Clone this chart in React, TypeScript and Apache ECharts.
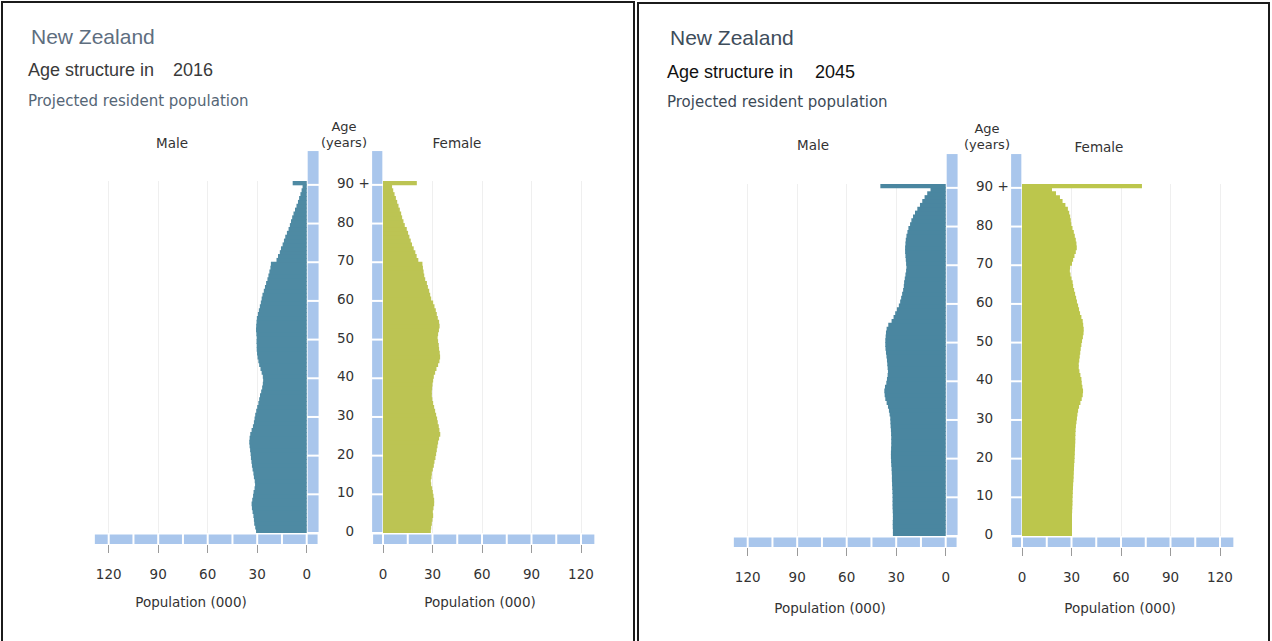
import React, { useEffect, useRef } from "react";
import * as echarts from "echarts";

// ---------- data ----------
const ageLabels: string[] = [];
for (let a = 0; a < 90; a++) ageLabels.push(String(a));
ageLabels.push("90+");

const popTicks = [0, 30, 60, 90, 120];
const ageBreaks = [0, 10, 20, 30, 40, 50, 60, 70, 80, 90, 99];
const maleBarBreaks = [129, 120, 105, 90, 75, 60, 45, 30, 15, 0, -7.2];
const femaleBarBreaks = [-6.6, 0, 15, 30, 45, 60, 75, 90, 105, 120, 128.7];

// population (000) by single year of age 0..89, then 90+
const male2016 = [
  30.7, 31.2, 31.8, 32.0, 32.3, 32.8, 33.2, 33.4, 33.0, 32.5,
  32.2, 31.6, 31.3, 31.5, 32.0, 32.3, 32.8, 33.2, 33.5, 33.8,
  34.0, 34.3, 34.6, 34.8, 34.6, 34.2, 33.4, 32.6, 32.0, 31.6,
  31.2, 30.6, 30.0, 29.3, 28.8, 28.3, 27.6, 27.0, 26.6, 26.4,
  26.6, 27.3, 28.0, 28.8, 29.3, 29.8, 30.1, 30.3, 30.3, 30.4,
  30.3, 30.5, 30.7, 30.6, 30.4, 30.2, 29.6, 29.0, 28.4, 27.8,
  27.3, 26.8, 26.0, 25.3, 24.6, 23.8, 23.2, 22.6, 22.0, 21.7,
  18.3, 17.4, 16.3, 15.6, 14.6, 13.8, 13.0, 12.0, 11.0, 10.2,
  9.5, 8.8, 8.0, 7.1, 6.2, 5.3, 4.6, 3.8, 3.1, 2.5,
  8.5,
];
const female2016 = [
  29.0, 29.2, 29.6, 30.0, 30.4, 30.2, 30.6, 31.0, 31.0, 30.6,
  30.2, 29.8, 29.2, 29.0, 29.4, 29.6, 30.2, 30.8, 31.2, 31.8,
  32.2, 32.6, 33.0, 33.4, 34.0, 34.7, 34.2, 33.8, 33.2, 32.8,
  32.2, 31.6, 31.0, 30.4, 29.9, 29.6, 29.6, 29.8, 30.0, 30.4,
  30.8, 31.6, 32.4, 33.4, 34.2, 34.6, 34.4, 34.0, 33.8, 33.4,
  33.1, 33.4, 33.9, 34.3, 34.0, 33.2, 32.6, 32.0, 31.2, 30.4,
  29.2, 28.6, 28.0, 27.2, 26.6, 25.6, 25.0, 24.6, 24.2, 23.9,
  21.4, 20.4, 19.6, 18.6, 17.6, 16.8, 16.0, 15.2, 14.4, 13.2,
  12.4, 11.6, 11.0, 10.2, 9.4, 8.6, 7.8, 7.0, 6.2, 5.5,
  20.5,
];
const male2045 = [
  32.0, 32.0, 32.1, 32.1, 32.0, 32.0, 32.1, 32.2, 32.2, 32.2,
  32.2, 32.3, 32.4, 32.5, 32.6, 32.6, 32.7, 32.8, 33.0, 33.1,
  33.2, 33.2, 33.1, 33.0, 33.0, 33.0, 33.1, 33.2, 33.4, 33.5,
  33.6, 34.0, 34.4, 35.0, 35.8, 36.6, 37.0, 37.2, 36.8, 36.0,
  35.6, 35.2, 35.0, 35.2, 35.4, 35.6, 35.9, 36.2, 36.5, 36.6,
  36.6, 36.4, 36.2, 35.8, 34.8, 32.8, 31.6, 30.6, 29.6, 28.4,
  27.6, 27.0, 26.4, 25.8, 25.4, 25.2, 24.8, 24.4, 24.0, 23.8,
  24.0, 24.2, 24.4, 24.6, 24.6, 24.4, 24.2, 23.8, 23.2, 22.6,
  21.6, 20.8, 19.8, 18.6, 17.2, 15.6, 14.2, 12.8, 11.2, 9.2,
  39.6,
];
const female2045 = [
  30.3, 30.3, 30.3, 30.3, 30.3, 30.3, 30.4, 30.5, 30.6, 30.6,
  30.7, 30.8, 30.9, 31.0, 31.2, 31.3, 31.4, 31.5, 31.6, 31.8,
  31.9, 32.0, 32.1, 32.2, 32.3, 32.3, 32.4, 32.5, 32.7, 33.0,
  33.3, 33.6, 34.0, 34.6, 35.4, 36.2, 36.8, 37.0, 36.6, 36.2,
  36.0, 35.4, 34.8, 34.4, 34.4, 34.7, 35.0, 35.3, 35.6, 36.0,
  36.4, 36.9, 37.3, 37.4, 37.1, 36.8, 36.0, 35.2, 34.6, 34.0,
  33.3, 32.8, 32.2, 31.6, 31.0, 30.7, 30.0, 29.4, 29.0, 29.2,
  30.3, 31.0, 31.8, 32.6, 33.2, 33.0, 32.6, 32.0, 31.4, 30.6,
  29.9, 29.6, 29.2, 28.6, 27.8, 26.3, 24.6, 23.0, 20.6, 18.2,
  72.7,
];

// ---------- layout ----------
const W = 1272;
const H = 641;
const PX_PER_K = 1.65;
const AXIS_MAX = 129;
const MALE_ZERO_X = 306.7;
const FEMALE_ZERO_X = 383;
const GRID_TOP = 181;
const GRID_BOTTOM = 533;
const BAR_PX = (GRID_BOTTOM - GRID_TOP) / ageLabels.length + 0.9;

const SANS = "DejaVu Sans";
const ARIAL = "Liberation Sans";
const AXIS_BLUE = "#a9c6ec";

const panels = [
  {
    year: "2016",
    male: male2016,
    female: female2016,
    dx: 0,
    dy: 0,
    maleColor: "#4e8aa3",
    femaleColor: "#bcc453",
    border: { x: 2, y: 2, w: 632 },
    titleColor: "#5e6e7f",
    subColor: "#3a3a3a",
    projColor: "#556676",
    t: { nz: [31, 36], as: [28, 70], yr: [173, 70], pr: [28, 101], male: [172, 143], age: [344, 126], years: [344, 142], female: [457, 143], popM: [191, 602], popF: [480, 602] },
  },
  {
    year: "2045",
    male: male2045,
    female: female2045,
    dx: 639,
    dy: 3,
    maleColor: "#4a86a0",
    femaleColor: "#bcc64c",
    border: { x: 638, y: 3, w: 631 },
    titleColor: "#3e4d5b",
    subColor: "#111111",
    projColor: "#3c4a57",
    t: { nz: [670, 37], as: [667, 72], yr: [815, 72], pr: [667, 102], male: [813, 145], age: [987, 128], years: [987, 144], female: [1099, 147], popM: [830, 608], popF: [1120, 608] },
  },
];

function buildOption(): any {
  const grid: any[] = [];
  const xAxis: any[] = [];
  const yAxis: any[] = [];
  const series: any[] = [];
  panels.forEach((p, pi) => {
    const top = GRID_TOP + p.dy;
    const height = GRID_BOTTOM - GRID_TOP;
    const width = AXIS_MAX * PX_PER_K;
    grid.push({ left: MALE_ZERO_X + p.dx - width, top, width, height });
    grid.push({ left: FEMALE_ZERO_X + p.dx, top, width, height });
    [0, 1].forEach((side) => {
      const gi = pi * 2 + side;
      xAxis.push({
        type: "value",
        gridIndex: gi,
        inverse: side === 0,
        min: 0,
        max: AXIS_MAX,
        offset: 12,
        axisLine: { show: false },
        axisTick: { show: true, customValues: popTicks, length: 8, lineStyle: { color: "#9a9a9a", width: 1 } },
        axisLabel: { customValues: popTicks, margin: 22, fontSize: 13.5, color: "#333", fontFamily: SANS },
        splitLine: { show: true, lineStyle: { color: "#efefef", width: 1 } },
      });
      yAxis.push({
        type: "category",
        gridIndex: gi,
        data: ageLabels,
        axisLine: { show: false },
        axisTick: { show: false },
        splitLine: { show: false },
        axisLabel: {
          show: side === 1,
          interval: (idx: number) => idx % 10 === 0,
          formatter: (v: string, idx: number) => (idx === 90 ? "90 +" : idx === 0 ? "\u20070" : v),
          align: "left",
          margin: 46,
          fontSize: 13.5,
          color: "#333",
          fontFamily: SANS,
        },
      });
      series.push({
        type: "bar",
        name: side === 0 ? "Male " + p.year : "Female " + p.year,
        xAxisIndex: gi,
        yAxisIndex: gi,
        data: side === 0 ? p.male : p.female,
        barWidth: BAR_PX,
        silent: true,
        itemStyle: {
          color: side === 0 ? p.maleColor : p.femaleColor,
          borderWidth: 0,
        },
      });
    });
  });
  return {
    animation: false,
    backgroundColor: "#ffffff",
    grid,
    xAxis,
    yAxis,
    series,
  };
}

function text(str: string, x: number, y: number, size: number, fill: string, family: string, align = "left") {
  return {
    type: "text",
    silent: true,
    z: 100,
    style: {
      text: str,
      x,
      y,
      fill,
      font: `${size}px "${family}"`,
      fontSize: size,
      fontFamily: family,
      lineHeight: Math.round(size * 1.1),
      align,
      textAlign: align,
      verticalAlign: "middle",
      textVerticalAlign: "middle",
    },
  };
}

function buildGraphics(chart: echarts.ECharts): any[] {
  const g: any[] = [];
  panels.forEach((p, pi) => {
    // borders
    g.push({
      type: "rect",
      silent: true,
      z: 100,
      shape: { x: p.border.x, y: p.border.y, width: p.border.w, height: H + 40 },
      style: { fill: "none", stroke: "#1b1b1b", lineWidth: 2 },
    });
    // texts
    const t = p.t;
    g.push(text("New Zealand", t.nz[0], t.nz[1], 21, p.titleColor, ARIAL));
    g.push(text("Age structure in", t.as[0], t.as[1], 18, p.subColor, ARIAL));
    g.push(text(p.year, t.yr[0], t.yr[1], 18, p.subColor, ARIAL));
    g.push(text("Projected resident population", t.pr[0], t.pr[1], 15, p.projColor, SANS));
    g.push(text("Male", t.male[0], t.male[1], 13.5, "#333", SANS, "center"));
    g.push(text("Age", t.age[0], t.age[1], 13, "#333", SANS, "center"));
    g.push(text("(years)", t.years[0], t.years[1], 13, "#333", SANS, "center"));
    g.push(text("Female", t.female[0], t.female[1], 13.5, "#333", SANS, "center"));
    g.push(text("Population (000)", t.popM[0], t.popM[1], 13.5, "#333", SANS, "center"));
    g.push(text("Population (000)", t.popF[0], t.popF[1], 13.5, "#333", SANS, "center"));

    // light-blue segmented axis bars, placed through the axes' scales
    [0, 1].forEach((side) => {
      const gi = pi * 2 + side;
      const px = (v: number) => chart.convertToPixel({ xAxisIndex: gi } as any, v) as unknown as number;
      const c0 = chart.convertToPixel({ yAxisIndex: gi } as any, 0) as unknown as number;
      const c1 = chart.convertToPixel({ yAxisIndex: gi } as any, 1) as unknown as number;
      const band = c0 - c1;
      const base = c0 + band / 2;
      const ageY = (a: number) => base - a * band;

      // vertical bar beside the age labels
      const vx = side === 0 ? [px(-0.6), px(-7.2)] : [px(-6.6), px(-0.4)];
      const vl = Math.min(vx[0], vx[1]);
      const vw = Math.abs(vx[1] - vx[0]);
      for (let i = 0; i < ageBreaks.length - 1; i++) {
        const yTop = ageY(ageBreaks[i + 1]) + 1;
        const yBot = ageY(ageBreaks[i]) - 1;
        g.push({
          type: "rect",
          silent: true,
          z: 50,
          shape: { x: vl, y: yTop, width: vw, height: yBot - yTop },
          style: { fill: AXIS_BLUE },
        });
      }
      // horizontal bar below the pyramid
      const br = side === 0 ? maleBarBreaks : femaleBarBreaks;
      for (let i = 0; i < br.length - 1; i++) {
        const a = px(br[i]);
        const b = px(br[i + 1]);
        const l = Math.min(a, b) + 1;
        const r = Math.max(a, b) - 1;
        g.push({
          type: "rect",
          silent: true,
          z: 50,
          shape: { x: l, y: base + 1.5, width: r - l, height: 9.5 },
          style: { fill: AXIS_BLUE },
        });
      }
    });
  });
  return g;
}

export default function App() {
  const ref = useRef<HTMLDivElement>(null);
  useEffect(() => {
    if (!ref.current) return;
    const chart = echarts.init(ref.current, undefined, { renderer: "svg", width: W, height: H });
    chart.setOption(buildOption());
    chart.setOption({ graphic: buildGraphics(chart) });
    return () => chart.dispose();
  }, []);
  return (
    <div
      ref={ref}
      style={{ position: "absolute", left: 0, top: 0, width: W, height: H, background: "#fff" }}
    />
  );
}
